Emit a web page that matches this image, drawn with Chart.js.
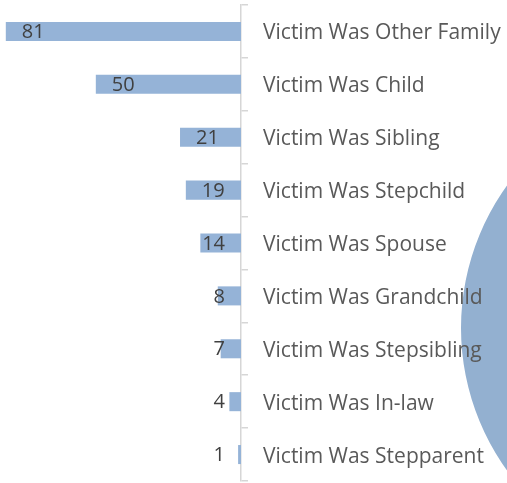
<!DOCTYPE html>
<html>
<head>
<meta charset="utf-8">
<script src="https://cdn.jsdelivr.net/npm/chart.js@4"></script>
<style>
  html, body { margin: 0; padding: 0; background: #fff; overflow: hidden; }
  #wrap { position: relative; width: 507px; height: 483px; overflow: hidden; }
  #pie { position: absolute; left: 461px; top: 84px; z-index: 0; }
  #bars { position: absolute; left: 0; top: 0; z-index: 1; }
</style>
</head>
<body>
<div id="wrap">
  <canvas id="pie" width="488" height="488"></canvas>
  <canvas id="bars" width="507" height="483"></canvas>
</div>
<script>
const categories = [
  'Victim Was Other Family',
  'Victim Was Child',
  'Victim Was Sibling',
  'Victim Was Stepchild',
  'Victim Was Spouse',
  'Victim Was Grandchild',
  'Victim Was Stepsibling',
  'Victim Was In-law',
  'Victim Was Stepparent'
];
const counts = [81, 50, 21, 19, 14, 8, 7, 4, 1];
const circleValue = [1];

const FONT = "'Open Sans', sans-serif";

// value labels near the outer end of each bar
const valueLabels = {
  id: 'valueLabels',
  afterDatasetsDraw(chart) {
    const ctx = chart.ctx;
    const meta = chart.getDatasetMeta(0);
    ctx.save();
    ctx.font = '20px ' + FONT;
    ctx.fillStyle = '#404040';
    ctx.textAlign = 'right';
    ctx.textBaseline = 'middle';
    meta.data.forEach((bar, i) => {
      const txt = String(counts[i]);
      const w = ctx.measureText(txt).width;
      const right = Math.min(bar.x + 16 + w, bar.base - 16);
      ctx.fillText(txt, right, bar.y + 1);
    });
    ctx.restore();
  }
};

new Chart(document.getElementById('pie'), {
  type: 'pie',
  data: {
    labels: ['All'],
    datasets: [{
      data: circleValue,
      backgroundColor: '#93b0d0',
      borderWidth: 0,
      hoverBorderWidth: 0,
      hoverOffset: 0
    }]
  },
  options: {
    responsive: false,
    animation: false,
    layout: { padding: 0 },
    plugins: { legend: { display: false }, tooltip: { enabled: false } }
  }
});

new Chart(document.getElementById('bars'), {
  type: 'bar',
  data: {
    labels: categories,
    datasets: [{
      data: counts,
      backgroundColor: '#95b3d7',
      borderWidth: 0,
      categoryPercentage: 1,
      barPercentage: 0.36
    }]
  },
  options: {
    indexAxis: 'y',
    responsive: false,
    animation: false,
    layout: { padding: { top: 5, bottom: 2, left: 0, right: 0 } },
    scales: {
      x: {
        display: false,
        reverse: true,
        min: 0,
        max: 83
      },
      y: {
        position: 'right',
        grid: {
          offset: true,
          drawOnChartArea: false,
          drawTicks: true,
          tickLength: 7,
          lineWidth: 1.5,
          color: '#d6d6d6'
        },
        border: { color: '#d6d6d6', width: 1.5 },
        ticks: {
          padding: 15,
          labelOffset: 2,
          color: '#595959',
          font: { family: FONT, size: 21 }
        },
        afterFit(scale) {
          scale.width = 266;
          scale.paddingTop = 0;
          scale.paddingBottom = 0;
        }
      }
    },
    plugins: {
      legend: { display: false },
      tooltip: { enabled: false }
    }
  },
  plugins: [valueLabels]
});
</script>
</body>
</html>
